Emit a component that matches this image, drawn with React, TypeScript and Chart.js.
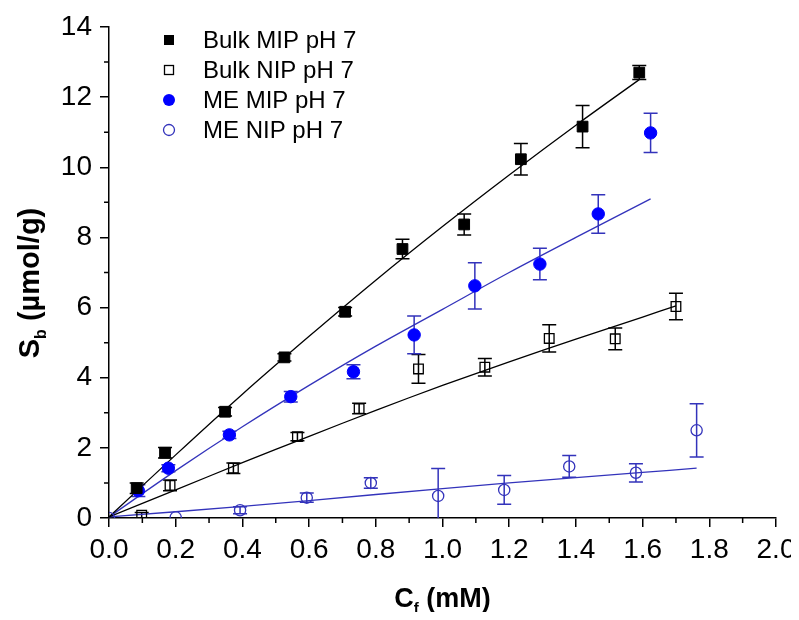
import React, { useEffect, useRef } from 'react';
import { Chart, registerables } from 'chart.js';

Chart.register(...registerables);

const FONT = "'Liberation Sans', Arial, sans-serif";

// ---- Data ----
const bulkMipX = [0.083, 0.168, 0.348, 0.526, 0.708, 0.88, 1.065, 1.235, 1.42, 1.59];
const bulkMipY = [0.85, 1.86, 3.03, 4.58, 5.88, 7.67, 8.37, 10.23, 11.16, 12.7];
const bulkMipErr = [0.15, 0.15, 0.12, 0.1, 0.12, 0.28, 0.3, 0.45, 0.6, 0.2];

const bulkNipX = [0.098, 0.183, 0.373, 0.565, 0.75, 0.928, 1.127, 1.32, 1.518, 1.7];
const bulkNipY = [0.08, 0.93, 1.42, 2.32, 3.12, 4.25, 4.3, 5.12, 5.11, 6.03];
const bulkNipErr = [0.08, 0.15, 0.15, 0.12, 0.15, 0.41, 0.25, 0.39, 0.31, 0.38];

const meMipX = [0.088, 0.178, 0.361, 0.545, 0.733, 0.915, 1.097, 1.292, 1.467, 1.624];
const meMipY = [0.78, 1.42, 2.37, 3.46, 4.17, 5.22, 6.62, 7.24, 8.67, 10.98];
const meMipErr = [0.17, 0.1, 0.1, 0.15, 0.2, 0.54, 0.66, 0.45, 0.55, 0.56];

const meNipX = [0, 0.2, 0.393, 0.593, 0.785, 0.987, 1.185, 1.38, 1.58, 1.762];
const meNipY = [0, 0.02, 0.22, 0.58, 1.0, 0.63, 0.8, 1.47, 1.29, 2.5];
const meNipErr = [0, 0, 0.1, 0.13, 0.15, 0.78, 0.41, 0.31, 0.26, 0.76];

// fitted curves (sampled along the drawn lines)
const bulkMipFitX = [0, 0.2, 0.4, 0.6, 0.8, 1.0, 1.2, 1.4, 1.59];
const bulkMipFitY = [0.03, 1.8, 3.53, 5.18, 6.78, 8.31, 9.78, 11.2, 12.5];
const bulkNipFitX = [0, 0.2, 0.4, 0.6, 0.8, 1.0, 1.2, 1.4, 1.6, 1.7];
const bulkNipFitY = [0.03, 0.8, 1.58, 2.33, 3.07, 3.78, 4.45, 5.1, 5.73, 6.05];
const meMipFitX = [0, 0.2, 0.4, 0.6, 0.8, 1.0, 1.2, 1.4, 1.624];
const meMipFitY = [0.03, 1.35, 2.6, 3.78, 4.9, 5.95, 7.0, 8.0, 9.1];
const meNipFitX = [0, 0.4, 0.8, 1.2, 1.6, 1.762];
const meNipFitY = [0.03, 0.33, 0.67, 1.0, 1.3, 1.42];

const seriesNames = ['Bulk MIP pH 7', 'Bulk NIP pH 7', 'ME MIP pH 7', 'ME NIP pH 7'];

const xMinorTicks = [0.1, 0.3, 0.5, 0.7, 0.9, 1.1, 1.3, 1.5, 1.7, 1.9];
const yMinorTicks = [1, 3, 5, 7, 9, 11, 13];

const BLACK = '#000000';
const BLUE = '#0000ff';
const BLUE_LINE = '#3333bb';

const pts = (xs: number[], ys: number[]) => xs.map((x, i) => ({ x, y: ys[i] }));

const errorBarPlugin = {
  id: 'errorBars',
  beforeDatasetsDraw(chart: any) {
    const { ctx, chartArea, scales } = chart;
    const x = scales.x, y = scales.y;
    ctx.save();
    ctx.beginPath();
    ctx.rect(chartArea.left, chartArea.top, chartArea.right - chartArea.left, chartArea.bottom - chartArea.top);
    ctx.clip();
    chart.data.datasets.forEach((ds: any) => {
      if (!ds.errors) return;
      ctx.strokeStyle = ds.errorColor;
      ctx.lineWidth = 1.5;
      ds.data.forEach((p: any, i: number) => {
        const e = ds.errors[i];
        if (!e) return;
        const px = x.getPixelForValue(p.x);
        const top = y.getPixelForValue(p.y + e);
        const bot = y.getPixelForValue(p.y - e);
        ctx.beginPath();
        ctx.moveTo(px, top);
        ctx.lineTo(px, bot);
        ctx.moveTo(px - 7, top);
        ctx.lineTo(px + 7, top);
        ctx.moveTo(px - 7, bot);
        ctx.lineTo(px + 7, bot);
        ctx.stroke();
      });
    });
    ctx.restore();
  },
};

function drawRich(ctx: CanvasRenderingContext2D, parts: { t: string; size: number; dy: number }[]) {
  let total = 0;
  parts.forEach((p) => {
    ctx.font = `bold ${p.size}px ${FONT}`;
    total += ctx.measureText(p.t).width;
  });
  let cx = -total / 2;
  parts.forEach((p) => {
    ctx.font = `bold ${p.size}px ${FONT}`;
    ctx.fillText(p.t, cx, p.dy);
    cx += ctx.measureText(p.t).width;
  });
}

const decorPlugin = {
  id: 'decor',
  afterDraw(chart: any) {
    const { ctx, chartArea, scales } = chart;
    const x = scales.x, y = scales.y;
    ctx.save();
    // minor ticks
    ctx.strokeStyle = BLACK;
    ctx.lineWidth = 1.5;
    ctx.beginPath();
    xMinorTicks.forEach((v) => {
      const px = x.getPixelForValue(v);
      ctx.moveTo(px, chartArea.bottom);
      ctx.lineTo(px, chartArea.bottom + 5);
    });
    yMinorTicks.forEach((v) => {
      const py = y.getPixelForValue(v);
      ctx.moveTo(chartArea.left, py);
      ctx.lineTo(chartArea.left - 5, py);
    });
    ctx.stroke();

    // legend
    const lx = chartArea.left + 60;
    const tx = chartArea.left + 94;
    const rows = [13, 43, 73, 103].map((d) => chartArea.top + d);
    ctx.font = `24px ${FONT}`;
    ctx.textBaseline = 'middle';
    ctx.textAlign = 'left';
    ctx.fillStyle = BLACK;
    seriesNames.forEach((n, i) => ctx.fillText(n, tx, rows[i] + 1));
    // markers
    ctx.fillStyle = BLACK;
    ctx.fillRect(lx - 5, rows[0] - 5, 10, 10);
    ctx.strokeStyle = BLACK;
    ctx.lineWidth = 1.3;
    ctx.strokeRect(lx - 4.5, rows[1] - 4.5, 9, 9);
    ctx.fillStyle = BLUE;
    ctx.beginPath();
    ctx.arc(lx, rows[2], 6, 0, Math.PI * 2);
    ctx.fill();
    ctx.strokeStyle = BLUE_LINE;
    ctx.beginPath();
    ctx.arc(lx, rows[3], 5.5, 0, Math.PI * 2);
    ctx.stroke();

    // axis titles
    ctx.fillStyle = BLACK;
    ctx.textBaseline = 'alphabetic';
    ctx.save();
    ctx.translate(x.getPixelForValue(1.0), chartArea.bottom + 89);
    drawRich(ctx, [
      { t: 'C', size: 27, dy: 0 },
      { t: 'f', size: 15, dy: 6 },
      { t: ' (mM)', size: 27, dy: 0 },
    ]);
    ctx.restore();
    ctx.save();
    ctx.translate(31, chartArea.top + 256);
    ctx.rotate(-Math.PI / 2);
    drawRich(ctx, [
      { t: 'S', size: 29, dy: 0 },
      { t: 'b', size: 16, dy: 7 },
      { t: ' (\u00b5mol/g)', size: 29, dy: 0 },
    ]);
    ctx.restore();
    ctx.restore();
  },
};

export default function App() {
  const ref = useRef<HTMLCanvasElement | null>(null);
  useEffect(() => {
    if (!ref.current) return;
    const tickFont = { family: FONT, size: 28 };
    const chart = new Chart(ref.current, {
      type: 'scatter',
      data: {
        datasets: [
          {
            label: seriesNames[0],
            data: pts(bulkMipX, bulkMipY),
            pointStyle: 'rect',
            pointRadius: 7.6,
            backgroundColor: BLACK,
            borderColor: BLACK,
            borderWidth: 1,
            errors: bulkMipErr,
            errorColor: BLACK,
          } as any,
          {
            label: seriesNames[1],
            data: pts(bulkNipX, bulkNipY),
            pointStyle: 'rect',
            pointRadius: 6.8,
            backgroundColor: 'rgba(0,0,0,0)',
            borderColor: BLACK,
            borderWidth: 1.3,
            errors: bulkNipErr,
            errorColor: BLACK,
          } as any,
          {
            label: seriesNames[2],
            data: pts(meMipX, meMipY),
            pointStyle: 'circle',
            pointRadius: 6.2,
            backgroundColor: BLUE,
            borderColor: BLUE,
            borderWidth: 1,
            errors: meMipErr,
            errorColor: BLUE_LINE,
          } as any,
          {
            label: seriesNames[3],
            data: pts(meNipX, meNipY),
            pointStyle: 'circle',
            pointRadius: 5.6,
            backgroundColor: 'rgba(0,0,0,0)',
            borderColor: BLUE_LINE,
            borderWidth: 1.3,
            errors: meNipErr,
            errorColor: BLUE_LINE,
          } as any,
          {
            label: 'fit1',
            data: pts(bulkMipFitX, bulkMipFitY),
            showLine: true,
            pointRadius: 0,
            borderColor: BLACK,
            borderWidth: 1.3,
            tension: 0.3,
          },
          {
            label: 'fit2',
            data: pts(bulkNipFitX, bulkNipFitY),
            showLine: true,
            pointRadius: 0,
            borderColor: BLACK,
            borderWidth: 1.3,
            tension: 0.3,
          },
          {
            label: 'fit3',
            data: pts(meMipFitX, meMipFitY),
            showLine: true,
            pointRadius: 0,
            borderColor: BLUE_LINE,
            borderWidth: 1.3,
            tension: 0.3,
          },
          {
            label: 'fit4',
            data: pts(meNipFitX, meNipFitY),
            showLine: true,
            pointRadius: 0,
            borderColor: BLUE_LINE,
            borderWidth: 1.3,
            tension: 0.3,
          },
        ],
      },
      options: {
        animation: false,
        responsive: true,
        maintainAspectRatio: false,
        layout: { padding: { top: 19, right: 15, left: 0, bottom: 0 } },
        plugins: { legend: { display: false }, tooltip: { enabled: false } },
        scales: {
          x: {
            type: 'linear',
            min: 0,
            max: 2,
            afterFit: (s: any) => {
              s.height = 94;
              s.paddingLeft = 0;
              s.paddingRight = 0;
            },
            ticks: {
              stepSize: 0.2,
              autoSkip: false,
              maxRotation: 0,
              padding: 6,
              color: BLACK,
              font: tickFont,
              callback: (v: any) => Number(v).toFixed(1),
            },
            grid: { drawOnChartArea: false, drawTicks: true, tickLength: 9, color: BLACK, lineWidth: 1.5 },
            border: { display: true, color: BLACK, width: 1.5 },
          },
          y: {
            type: 'linear',
            min: 0,
            max: 14,
            afterFit: (s: any) => {
              s.width = 101;
              s.paddingTop = 0;
              s.paddingBottom = 0;
            },
            ticks: {
              stepSize: 2,
              autoSkip: false,
              padding: 8,
              color: BLACK,
              font: tickFont,
              callback: (v: any) => String(v),
            },
            grid: { drawOnChartArea: false, drawTicks: true, tickLength: 9, color: BLACK, lineWidth: 1.5 },
            border: { display: true, color: BLACK, width: 1.5 },
          },
        },
      } as any,
      plugins: [errorBarPlugin, decorPlugin],
    });
    return () => chart.destroy();
  }, []);
  return (
    <div style={{ width: 783, height: 604, position: 'relative' }}>
      <canvas ref={ref} />
    </div>
  );
}
